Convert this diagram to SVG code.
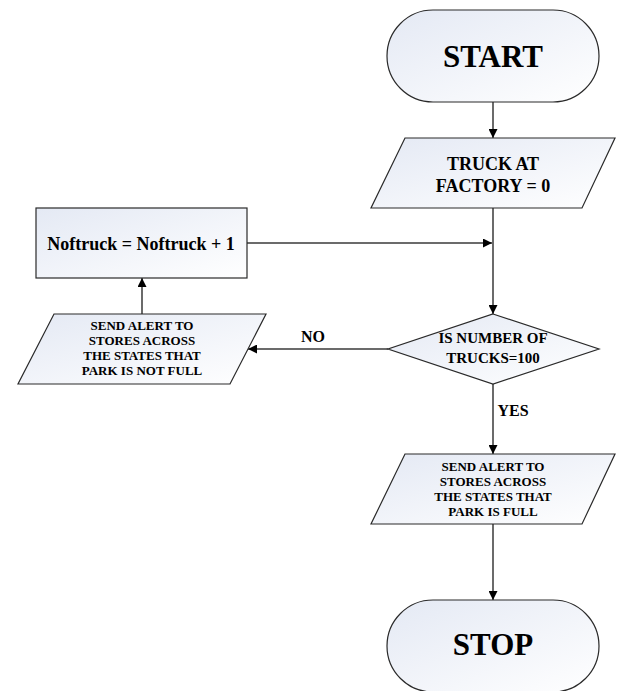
<svg xmlns="http://www.w3.org/2000/svg" width="619" height="691" viewBox="0 0 619 691">
<defs>
<linearGradient id="fill" x1="0" y1="0" x2="1" y2="1">
<stop offset="0" stop-color="#e4e9f4"/>
<stop offset="1" stop-color="#ffffff"/>
</linearGradient>
<marker id="arr" viewBox="0 0 10 10" refX="10" refY="5" markerWidth="9" markerHeight="9" markerUnits="userSpaceOnUse" orient="auto">
<path d="M0,0 L10,5 L0,10 Z" fill="#000"/>
</marker>
<style>
.shape{fill:url(#fill);stroke:#2a2a2a;stroke-width:1.2}
.t{font-family:"Liberation Serif","Times New Roman",serif;font-weight:bold;fill:#000;text-anchor:middle}
.conn{stroke:#3a3a3a;stroke-width:1.5;fill:none;marker-end:url(#arr)}
</style>
</defs>
<g id="connectors">
<line class="conn" x1="493" y1="102" x2="493" y2="138"/>
<line class="conn" x1="493" y1="208" x2="493" y2="314"/>
<line class="conn" x1="247" y1="243" x2="492" y2="243"/>
<line class="conn" x1="388" y1="349" x2="248" y2="349"/>
<line class="conn" x1="142" y1="314" x2="142" y2="278"/>
<line class="conn" x1="493" y1="384" x2="493" y2="454"/>
<line class="conn" x1="493" y1="524" x2="493" y2="600"/>
<text class="t" x="313" y="342" font-size="16">NO</text>
<text class="t" x="513" y="416" font-size="16">YES</text>
</g>
<g id="start">
<rect class="shape" x="387" y="10" width="212" height="92" rx="46" ry="46"/>
<text class="t" x="493" y="67" font-size="31">START</text>
</g>
<g id="truck-at-factory">
<polygon class="shape" points="405,138 615,138 582,208 371,208"/>
<text class="t" x="493" y="170" font-size="18">TRUCK AT</text>
<text class="t" x="493" y="192" font-size="18">FACTORY = 0</text>
</g>
<g id="noftruck">
<rect class="shape" x="36" y="208" width="211" height="70"/>
<text class="t" x="141" y="250" font-size="18">Noftruck = Noftruck + 1</text>
</g>
<g id="decision">
<polygon class="shape" points="493,314 599,349 493,384 388,349"/>
<text class="t" x="493" y="343" font-size="15">IS NUMBER OF</text>
<text class="t" x="493" y="363" font-size="15">TRUCKS=100</text>
</g>
<g id="alert-not-full">
<polygon class="shape" points="54,314 266,314 230,384 18,384"/>
<text class="t" x="142" y="330" font-size="13">SEND ALERT TO</text>
<text class="t" x="142" y="345" font-size="13">STORES ACROSS</text>
<text class="t" x="142" y="360" font-size="13">THE STATES THAT</text>
<text class="t" x="142" y="375" font-size="13">PARK IS NOT FULL</text>
</g>
<g id="alert-full">
<polygon class="shape" points="405,454 615,454 582,524 371,524"/>
<text class="t" x="493" y="471" font-size="13">SEND ALERT TO</text>
<text class="t" x="493" y="486" font-size="13">STORES ACROSS</text>
<text class="t" x="493" y="501" font-size="13">THE STATES THAT</text>
<text class="t" x="493" y="516" font-size="13">PARK IS FULL</text>
</g>
<g id="stop">
<rect class="shape" x="387" y="600" width="212" height="92" rx="46" ry="46"/>
<text class="t" x="493" y="655" font-size="31">STOP</text>
</g>
</svg>
